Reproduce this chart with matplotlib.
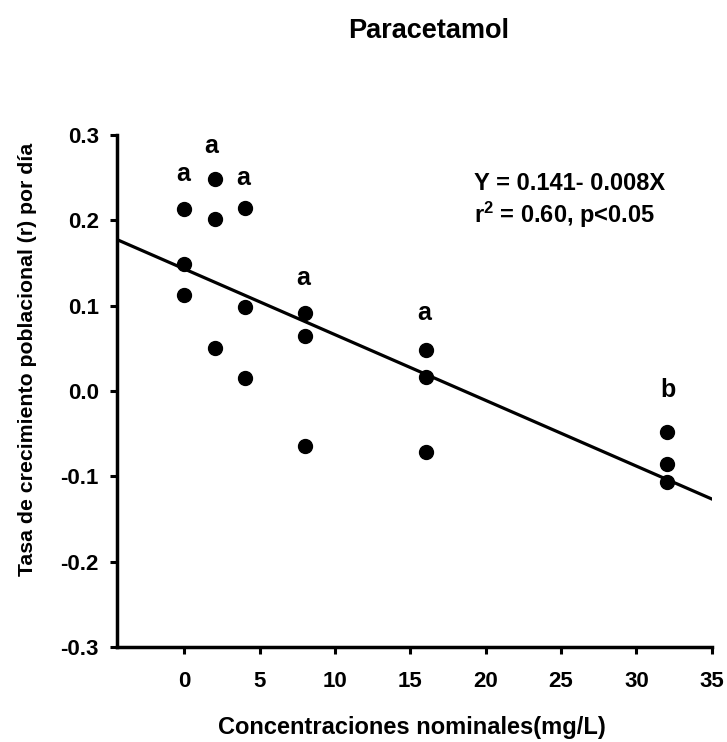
import matplotlib
matplotlib.use("Agg")
import matplotlib.pyplot as plt
import numpy as np

plt.rcParams['font.family'] = ['Liberation Sans', 'DejaVu Sans']
plt.rcParams['font.weight'] = 'bold'
plt.rcParams['mathtext.fontset'] = 'custom'
plt.rcParams['mathtext.rm'] = 'Liberation Sans:bold'
plt.rcParams['mathtext.it'] = 'Liberation Sans:bold'
plt.rcParams['mathtext.bf'] = 'Liberation Sans:bold'

# concentrations and growth rates (r per day), three replicates each
conc = [0, 0, 0, 2, 2, 2, 4, 4, 4, 8, 8, 8, 16, 16, 16, 32, 32, 32]
rate = [0.213, 0.149, 0.112,
        0.249, 0.202, 0.051,
        0.214, 0.099, 0.015,
        0.091, 0.064, -0.065,
        0.048, 0.017, -0.072,
        -0.048, -0.086, -0.107]

# significance letters
letter_x = [-0.1, 1.8, 3.9, 7.9, 15.9, 32.1]
letter_y = [0.254, 0.287, 0.250, 0.132, 0.091, 0.001]
letters = ['a', 'a', 'a', 'a', 'a', 'b']

# regression line as drawn
intercept = 0.143
slope = -0.0077
xlim = (-4.5, 35)

xticks = [0, 5, 10, 15, 20, 25, 30, 35]
yticks = [-0.3, -0.2, -0.1, 0.0, 0.1, 0.2, 0.3]

fig = plt.figure(figsize=(7.27, 7.42), dpi=100)
ax = fig.add_axes([0.1605, 0.128, 0.979 - 0.1605, 0.818 - 0.128])

xl = np.array(xlim)
ax.plot(xl, intercept + slope * xl, color='black', lw=2.3, zorder=2)
ax.plot(conc, rate, 'o', color='black', ms=10, zorder=3)

for x, y, t in zip(letter_x, letter_y, letters):
    ax.text(x, y, t, ha='center', va='center', fontsize=18, fontweight='bold')

ax.text(19.2, 0.243, 'Y = 0.141- 0.008X', fontsize=17, fontweight='bold',
        ha='left', va='center')
ax.text(19.2, 0.207, r'r$^{2}$ = 0.60, p<0.05', fontsize=17, fontweight='bold',
        ha='left', va='center')

ax.set_xlim(*xlim)
ax.set_ylim(-0.3, 0.3)
ax.set_xticks(xticks)
ax.set_yticks(yticks)
ax.set_yticklabels([f'{v:.1f}' for v in yticks])

for s in ['top', 'right']:
    ax.spines[s].set_visible(False)
for s in ['left', 'bottom']:
    ax.spines[s].set_linewidth(2.5)
ax.spines['bottom'].set_bounds(xlim[0], 35)

ax.tick_params(axis='both', direction='out', length=5, width=2.2, labelsize=16)
ax.tick_params(axis='x', pad=12)
ax.tick_params(axis='y', pad=8)

fig.text(0.589, 0.958, 'Paracetamol', ha='center', va='center',
         fontsize=19.5, fontweight='bold')
fig.text(0.567, 0.019, 'Concentraciones nominales(mg/L)', ha='center',
         va='center', fontsize=17, fontweight='bold')
fig.text(0.038, 0.516, 'Tasa de crecimiento poblacional (r) por día',
         ha='center', va='center', rotation=90, fontsize=15.3,
         fontweight='bold')

fig.savefig('out.png', dpi=100)
